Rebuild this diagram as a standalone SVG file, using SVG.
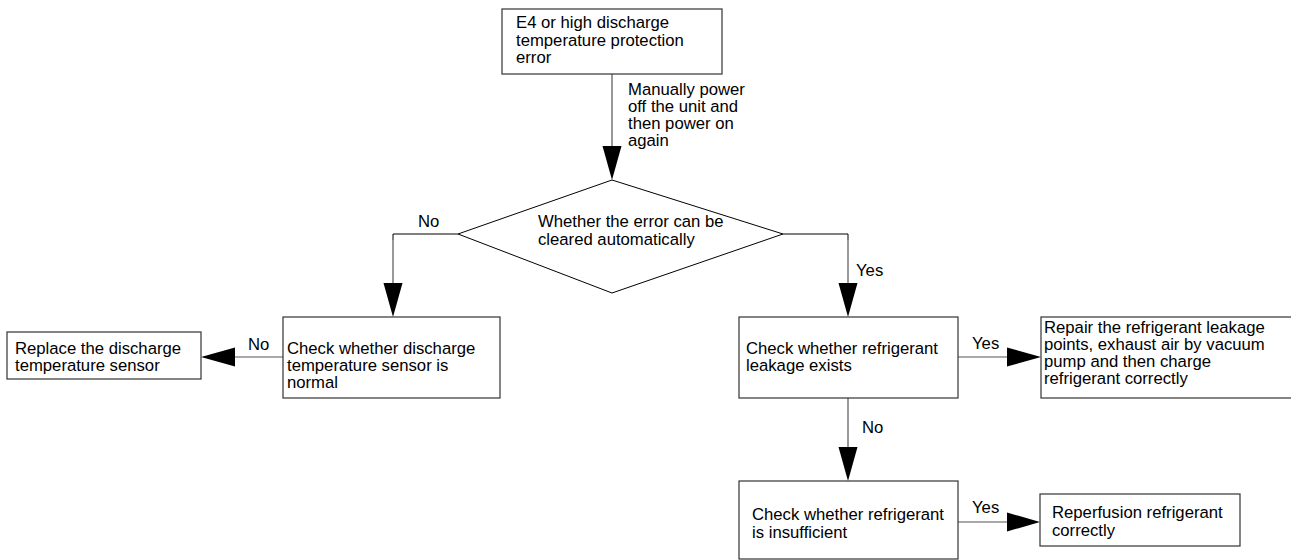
<svg xmlns="http://www.w3.org/2000/svg" width="1291" height="560" viewBox="0 0 1291 560">
<style>
text{font-family:"Liberation Sans",Arial,sans-serif;font-size:16.7px;fill:#000}
.box{fill:#fff;stroke:#333;stroke-width:1.2}
.dia{fill:#fff;stroke:#000;stroke-width:1}
.ln{fill:none;stroke:#555;stroke-width:1.2}
.lk{fill:none;stroke:#000;stroke-width:1}
.ah{fill:#000;stroke:none}
</style>
<rect width="1291" height="560" fill="#fff"/>
<g id="connectors">
<line class="ln" x1="612" y1="74" x2="612" y2="147"/>
<polygon class="ah" points="602.5,146 621.5,146 612,180"/>
<polyline class="lk" points="458,234 393,234 393,240"/>
<line class="ln" x1="393" y1="240" x2="393" y2="284"/>
<polygon class="ah" points="383.5,283 402.5,283 393,317"/>
<polyline class="lk" points="783,234 848,234 848,240"/>
<line class="ln" x1="848" y1="240" x2="848" y2="284"/>
<polygon class="ah" points="838.5,283 857.5,283 848,317"/>
<line class="ln" x1="283" y1="357" x2="234" y2="357"/>
<polygon class="ah" points="235,347.5 235,366.5 201,357"/>
<line class="ln" x1="958" y1="357" x2="1008" y2="357"/>
<polygon class="ah" points="1007,347.5 1007,366.5 1041,357"/>
<line class="ln" x1="848" y1="398" x2="848" y2="448"/>
<polygon class="ah" points="838.5,447 857.5,447 848,481"/>
<line class="ln" x1="958" y1="522" x2="1008" y2="522"/>
<polygon class="ah" points="1007,512.5 1007,531.5 1040,522"/>
<text x="628" y="95">Manually power</text>
<text x="628" y="112">off the unit and</text>
<text x="628" y="129">then power on</text>
<text x="628" y="146">again</text>
<text x="418" y="227">No</text>
<text x="856" y="276">Yes</text>
<text x="248" y="350">No</text>
<text x="972" y="349">Yes</text>
<text x="862" y="433">No</text>
<text x="972" y="513">Yes</text>
</g>
<g id="n-start">
<rect class="box" x="502" y="9" width="220" height="65"/>
<text x="516" y="28">E4 or high discharge</text>
<text x="516" y="45.5">temperature protection</text>
<text x="516" y="63">error</text>
</g>
<g id="n-decision">
<polygon class="dia" points="612,180 783,234 612,293 458,234"/>
<text x="538" y="227">Whether the error can be</text>
<text x="538" y="245">cleared automatically</text>
</g>
<g id="n-check-sensor">
<rect class="box" x="283" y="317" width="217" height="81"/>
<text x="287" y="354">Check whether discharge</text>
<text x="287" y="371">temperature sensor is</text>
<text x="287" y="388">normal</text>
</g>
<g id="n-replace">
<rect class="box" x="7" y="332" width="194" height="47"/>
<text x="15" y="354">Replace the discharge</text>
<text x="15" y="371">temperature sensor</text>
</g>
<g id="n-check-leak">
<rect class="box" x="739" y="317" width="219" height="81"/>
<text x="746" y="354">Check whether refrigerant</text>
<text x="746" y="371">leakage exists</text>
</g>
<g id="n-repair">
<rect class="box" x="1041" y="317" width="252" height="81"/>
<text x="1044" y="333">Repair the refrigerant leakage</text>
<text x="1044" y="350">points, exhaust air by vacuum</text>
<text x="1044" y="367">pump and then charge</text>
<text x="1044" y="384">refrigerant correctly</text>
</g>
<g id="n-check-insufficient">
<rect class="box" x="739" y="481" width="219" height="78"/>
<text x="752" y="520">Check whether refrigerant</text>
<text x="752" y="538">is insufficient</text>
</g>
<g id="n-reperfusion">
<rect class="box" x="1040" y="494" width="200" height="52"/>
<text x="1052" y="518">Reperfusion refrigerant</text>
<text x="1052" y="536">correctly</text>
</g>
</svg>
